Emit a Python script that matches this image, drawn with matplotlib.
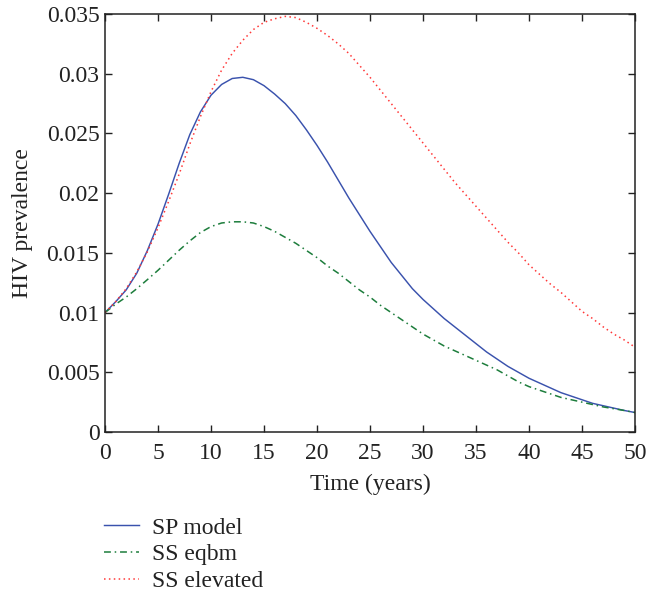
import numpy as np
import matplotlib
matplotlib.use("Agg")
import matplotlib.pyplot as plt

# values, one per year
years = list(range(0, 51))

sp_model = [0.0100, 0.0109, 0.0119, 0.0133, 0.0152, 0.0174, 0.0199,
            0.0225, 0.0249, 0.0268, 0.0282, 0.0291, 0.0296, 0.0297,
            0.0295, 0.0290, 0.0283, 0.0275, 0.0265, 0.0253, 0.0240,
            0.0226, 0.0211, 0.0196, 0.0182, 0.0168, 0.0155, 0.0142,
            0.0131, 0.0120, 0.0111, 0.0103, 0.0095, 0.0088, 0.0081,
            0.0074, 0.0067, 0.0061, 0.0055, 0.0050, 0.0045, 0.0041,
            0.0037, 0.0033, 0.0030, 0.0027, 0.0024, 0.0022, 0.0020,
            0.0018, 0.00163]

ss_eqbm = [0.0100, 0.0107, 0.0113, 0.0120, 0.01276, 0.01354, 0.01438,
           0.01522, 0.0160, 0.0167, 0.0172, 0.0175, 0.0176, 0.0176,
           0.0175, 0.0172, 0.0168, 0.0163, 0.0158, 0.0152, 0.0146,
           0.0139, 0.0133, 0.0126, 0.0119, 0.0113, 0.0106, 0.0100,
           0.0094, 0.0088, 0.0082, 0.0077, 0.0072, 0.0068, 0.0064,
           0.0060, 0.0056, 0.0052, 0.0047, 0.0042, 0.0038, 0.0035,
           0.0032, 0.0029, 0.0027, 0.0025, 0.0023, 0.0021, 0.00195,
           0.0018, 0.00163]

ss_elevated = [0.0100, 0.0109, 0.0120, 0.0134, 0.0151, 0.0171, 0.0193,
               0.0216, 0.0241, 0.0264, 0.0285, 0.0303, 0.0317, 0.0328,
               0.0337, 0.0343, 0.0346, 0.0348, 0.0347, 0.0343, 0.0338,
               0.0332, 0.0325, 0.0317, 0.0307, 0.0297, 0.0286, 0.0275,
               0.0264, 0.0253, 0.0242, 0.0231, 0.0220, 0.0209, 0.0199,
               0.0189, 0.0179, 0.0169, 0.0159, 0.0150, 0.0140, 0.0132,
               0.0124, 0.0117, 0.0109, 0.0101, 0.0095, 0.0088, 0.0082,
               0.0077, 0.0071]

x_ticks = [0, 5, 10, 15, 20, 25, 30, 35, 40, 45, 50]
y_ticks = [0, 0.005, 0.01, 0.015, 0.02, 0.025, 0.03, 0.035]
y_ticklabels = ["0", "0.005", "0.01", "0.015", "0.02", "0.025", "0.03", "0.035"]

plt.rcParams["font.family"] = ["Liberation Serif", "DejaVu Serif"]
plt.rcParams["font.size"] = 17

W, H = 646, 592
ink = "#222222"
fig = plt.figure(figsize=(W / 100, H / 100), dpi=100)
ax = fig.add_axes([105 / W, 1 - 432 / H, 530 / W, 418 / H])

l1, = ax.plot(years, sp_model, "-", color="#3a52ad", lw=1.05)
l2, = ax.plot(years, ss_eqbm, color="#1d7d3c", lw=1.1,
              linestyle=(0, (4.5, 2.5, 1, 2.5)))
l3, = ax.plot(years, ss_elevated, color="#ff3838", lw=1.1,
              linestyle=(0, (1, 2.2)))

ax.set_xlim(0, 50)
ax.set_ylim(0, 0.035)
ax.set_xticks(x_ticks)
ax.set_yticks(y_ticks)
ax.set_yticklabels(y_ticklabels)
ax.tick_params(direction="in", length=5, width=1, top=True, right=True,
               colors=ink, labelcolor=ink)
ax.tick_params(axis="y", pad=4)
ax.tick_params(axis="x", pad=8)
for s in ax.spines.values():
    s.set_linewidth(1.1)
    s.set_color(ink)

ax.set_xlabel("Time (years)", color=ink, labelpad=7)
ax.set_ylabel("HIV prevalence", color=ink, labelpad=10)

fig.legend([l1, l2, l3], ["SP model", "SS eqbm", "SS elevated"],
           loc="upper left", bbox_to_anchor=(104 / W, 1 - 517 / H),
           frameon=False, borderpad=0, borderaxespad=0,
           handlelength=1.5, handletextpad=0.55, labelspacing=0.23,
           labelcolor=ink)

fig.savefig("out.png", dpi=100)
